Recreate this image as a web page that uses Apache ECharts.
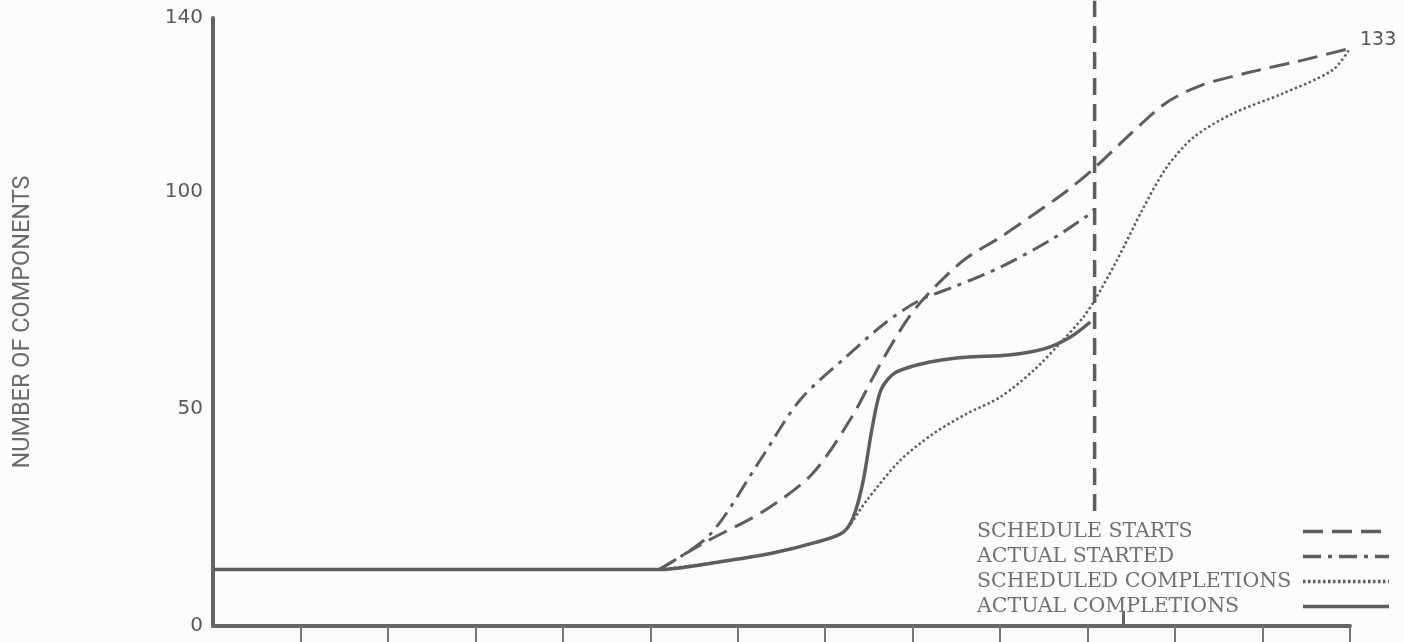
<!DOCTYPE html>
<html>
<head>
<meta charset="utf-8">
<script src="https://cdn.jsdelivr.net/npm/echarts@6/dist/echarts.min.js"></script>
<style>
  html, body { margin: 0; padding: 0; background: #fcfcfc; }
  #chart { width: 1404px; height: 642px; }
</style>
</head>
<body>
<div id="chart"></div>
<script>
// Month index along the x axis (0 = y-axis, each unit = one table column)
const monthTicks = [1, 2, 3, 4, 5, 6, 7, 8, 9, 10, 11, 12, 13];
const yTickLabels = [0, 50, 100, 140];

const seriesNames = ['SCHEDULE STARTS', 'ACTUAL STARTED', 'SCHEDULED COMPLETIONS', 'ACTUAL COMPLETIONS'];

// [month, number of components]
const scheduleStarts = [
  [5.1, 13], [5.6, 19], [6.3, 26.5], [6.85, 35], [7.3, 48], [7.62, 60], [7.97, 71.5],
  [8.25, 78], [8.6, 84.5], [9.0, 89.5], [9.4, 95], [9.75, 100], [10.08, 105.5],
  [10.5, 113.5], [10.9, 120.5], [11.3, 124.5], [11.85, 127.5], [12.4, 130], [13, 133]
];
const actualStarted = [
  [5.1, 13], [5.68, 21], [6.25, 38], [6.71, 52], [7.24, 62], [7.7, 70], [8.08, 75],
  [8.46, 78], [9.0, 82.6], [9.57, 88.8], [10.0, 94.5], [10.08, 96]
];
const scheduledCompletions = [
  [5.1, 13], [5.8, 14.8], [6.4, 16.8], [6.9, 19.3], [7.2, 21.5], [7.47, 28.8], [7.85, 38],
  [8.23, 44.2], [8.61, 48.8], [9.0, 52.7], [9.38, 58.8], [9.68, 65], [9.95, 71.1],
  [10.08, 75], [10.33, 84], [10.63, 96], [10.9, 105.5], [11.21, 112.5], [11.66, 118],
  [12.23, 122.6], [12.8, 128], [13, 133]
];
const actualCompletions = [
  [0, 13], [2.5, 13], [5.1, 13], [5.8, 14.8], [6.4, 16.8], [6.9, 19.3], [7.2, 21.5],
  [7.32, 25], [7.43, 33], [7.54, 46], [7.64, 54.5], [7.8, 58.3], [8.2, 60.8], [8.6, 61.9],
  [9.1, 62.4], [9.5, 63.8], [9.8, 66.5], [10.03, 70]
];
// vertical "report date" line and small marker on the time axis
const reportLine = [[10.08, 26.5], [10.08, 144]];
const axisMarker = [[10.41, 0], [10.41, 3.2]];

const ink = '#5e5e5e';
const chart = echarts.init(document.getElementById('chart'));
chart.setOption({
  backgroundColor: '#fcfcfc',
  animation: false,
  grid: { left: 213, right: 54, top: 18, bottom: 16 },
  legend: {
    data: seriesNames,
    orient: 'vertical',
    left: 972,
    top: 516,
    align: 'right',
    itemWidth: 86,
    itemHeight: 14,
    itemGap: 4,
    selectedMode: false,
    itemStyle: { color: 'rgba(0,0,0,0)', borderWidth: 0 },
    lineStyle: { width: 3.5 },
    formatter: name => '{t|' + name + '}',
    textStyle: {
      color: '#707070',
      rich: {
        t: {
          fontFamily: 'DejaVu Serif',
          fontSize: 20.5,
          color: '#707070',
          width: 321,
          align: 'left',
          lineHeight: 14,
          height: 14
        }
      }
    }
  },
  xAxis: {
    type: 'value',
    min: 0,
    max: 13,
    interval: 1,
    axisLine: { show: true, onZero: false, lineStyle: { color: '#666', width: 4 } },
    axisTick: { show: true, inside: false, length: 22, customValues: monthTicks,
      lineStyle: { color: '#777', width: 2 } },
    axisLabel: { show: false },
    splitLine: { show: false }
  },
  yAxis: {
    type: 'value',
    min: 0,
    max: 140,
    name: 'NUMBER OF COMPONENTS',
    nameLocation: 'middle',
    nameRotate: 90,
    nameGap: 178,
    nameTextStyle: { fontFamily: 'Roboto', fontSize: 23.5, color: '#6a6a6a' },
    axisLine: { show: true, lineStyle: { color: '#666', width: 4 } },
    axisTick: { show: false },
    axisLabel: { customValues: yTickLabels, fontFamily: 'DejaVu Sans', fontSize: 20,
      color: '#5a5a5a', margin: 10 },
    splitLine: { show: false }
  },
  series: [
    {
      name: 'SCHEDULE STARTS', type: 'line', data: scheduleStarts, smooth: 0.3,
      symbol: 'none',
      lineStyle: { color: ink, width: 3, type: [20, 9] },
      itemStyle: { color: ink },
      endLabel: { show: true, formatter: p => String(p.value[1]), offset: [2, -8],
        fontFamily: 'DejaVu Sans', fontSize: 19, color: '#555' }
    },
    {
      name: 'ACTUAL STARTED', type: 'line', data: actualStarted, smooth: 0.3,
      symbol: 'none',
      lineStyle: { color: ink, width: 3, type: [18, 7, 4, 7] },
      itemStyle: { color: ink }
    },
    {
      name: 'SCHEDULED COMPLETIONS', type: 'line', data: scheduledCompletions, smooth: 0.3,
      symbol: 'none',
      lineStyle: { color: ink, width: 2.5, type: [2.5, 2.5] },
      itemStyle: { color: ink }
    },
    {
      name: 'ACTUAL COMPLETIONS', type: 'line', data: actualCompletions, smooth: 0.3,
      symbol: 'none',
      lineStyle: { color: ink, width: 3.5 },
      itemStyle: { color: ink }
    },
    {
      name: 'report', type: 'line', data: reportLine, symbol: 'none', clip: false,
      lineStyle: { color: ink, width: 3.5, type: [17, 9] }
    },
    {
      name: 'marker', type: 'line', data: axisMarker, symbol: 'none', clip: false,
      lineStyle: { color: '#666', width: 3 }
    }
  ]
});
</script>
</body>
</html>
